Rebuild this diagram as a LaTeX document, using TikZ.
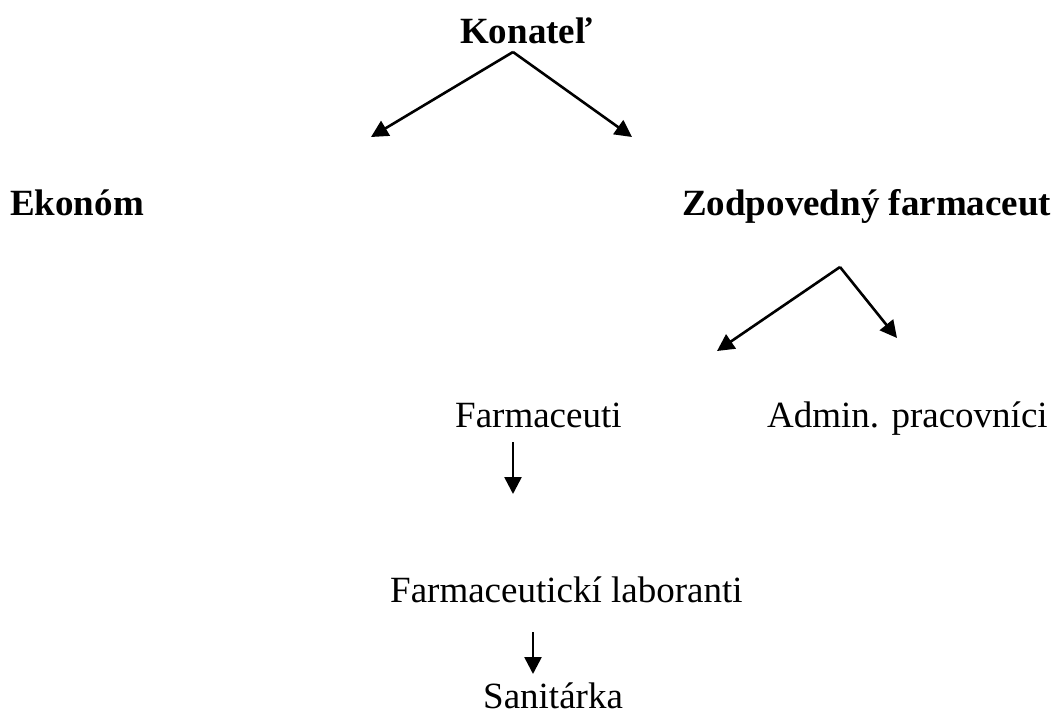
\documentclass[tikz,border=0pt]{standalone}
\usepackage{fontspec}
\setmainfont{Liberation Serif}
\usetikzlibrary{arrows.meta}
\begin{document}
\begin{tikzpicture}[x=1pt,y=1pt,
  lbl/.style={inner sep=0pt,anchor=base west,font=\fontsize{37}{44}\selectfont},
  blbl/.style={lbl,font=\fontsize{37}{44}\selectfont\bfseries},
  arr/.style={line width=2.6pt,-{Triangle[length=17pt,width=17pt]}}]
\useasboundingbox (0,0) rectangle (1057,-715);
\node[blbl] (kon) at (460,-43) {Konateľ};
\node[blbl] (eko) at (10,-215) {Ekonóm};
\node[blbl] (zod) at (682,-215) {Zodpovedný farmaceut};
\node[lbl] (far) at (455,-427) {Farmaceuti};
\node[lbl] (adm) at (767,-427) {Admin. pracovníci};
\node[lbl] (lab) at (390,-602) {Farmaceutickí laboranti};
\node[lbl] (san) at (483,-708) {Sanitárka};
\coordinate (a1) at (513,-52);
\coordinate (t1) at (371,-137);
\coordinate (t2) at (632,-137);
\coordinate (a2) at (840,-267);
\coordinate (t3) at (717,-351);
\coordinate (t4) at (897,-338);
\coordinate (a3) at (513,-442);
\coordinate (t5) at (513,-494);
\coordinate (a4) at (533,-632);
\coordinate (t6) at (533,-674);
\draw[arr] (a1) -- (t1);
\draw[arr] (a1) -- (t2);
\draw[arr] (a2) -- (t3);
\draw[arr] (a2) -- (t4);
\draw[arr] (a3) -- (t5);
\draw[arr] (a4) -- (t6);
\end{tikzpicture}
\end{document}
